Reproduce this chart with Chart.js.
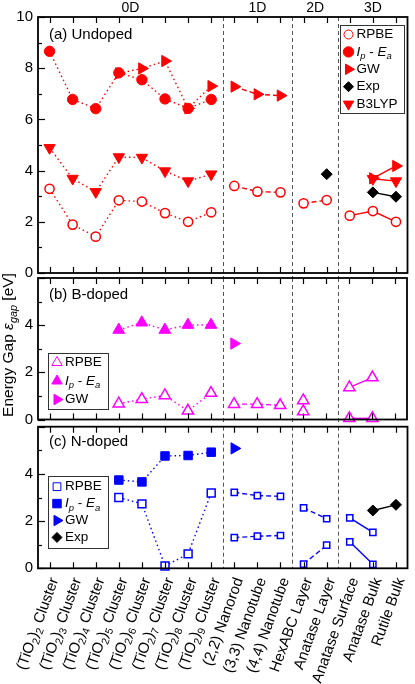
<!DOCTYPE html>
<html>
<head>
<meta charset="utf-8">
<script src="https://cdn.jsdelivr.net/npm/chart.js@4.4.0/dist/chart.umd.min.js"></script>
<style>
  html, body { margin: 0; padding: 0; background: #fff; }
  #wrap { position: relative; width: 415px; height: 684px; overflow: hidden; }
  .panel { position: absolute; left: 0; width: 415px; }
  canvas { display: block; }
</style>
</head>
<body>
<div id="wrap">
  <div class="panel" style="top:0;height:292px"><canvas id="chartA"></canvas></div>
  <div class="panel" style="top:258px;height:185px"><canvas id="chartB"></canvas></div>
  <div class="panel" style="top:408px;height:276px"><canvas id="chartC"></canvas></div>
</div>
<script>
// categories, "_" marks a one-character subscript
const categories = [
  "(TiO_2)_2 Cluster", "(TiO_2)_3 Cluster", "(TiO_2)_4 Cluster", "(TiO_2)_5 Cluster",
  "(TiO_2)_6 Cluster", "(TiO_2)_7 Cluster", "(TiO_2)_8 Cluster", "(TiO_2)_9 Cluster",
  "(2,2) Nanorod", "(3,3) Nanotube", "(4,4) Nanotube",
  "HexABC Layer", "Anatase Layer",
  "Anatase Surface", "Anatase Bulk", "Rutile Bulk"
];
const dimensions = ["0D", "1D", "2D", "3D"];
const dimensionStart = [0, 8, 11, 13];

// (a) undoped, eV
const undopedRPBE  = [3.29, 1.89, 1.42, 2.84, 2.79, 2.34, 2.00, 2.37, 3.40, 3.18, 3.15, 2.72, 2.85, 2.24, 2.42, 2.00];
const undopedIpEa  = [8.66, 6.78, 6.42, 7.82, 7.55, 6.80, 6.43, 6.78, null, null, null, null, null, null, null, null];
const undopedGW    = [null, null, null, 7.80, 7.99, 8.28, 6.43, 7.30, 7.28, 6.98, 6.93, null, null, null, 3.70, 4.18];
const undopedExp   = [null, null, null, null, null, null, null, null, null, null, null, null, 3.86, null, 3.15, 2.98];
const undopedB3LYP = [4.89, 3.69, 3.17, 4.53, 4.51, 3.98, 3.59, 3.86, null, null, null, null, null, null, 3.68, 3.59];

// (b) B-doped, two structures for some systems
const bdopedRPBE   = [null, null, null, 0.67, 0.86, 1.02, 0.37, 1.12, 0.65, 0.65, 0.60, 0.81, null, 1.36, 1.78, null];
const bdopedRPBE2  = [null, null, null, null, null, null, null, null, null, null, null, 0.34, null, 0.05, 0.05, null];
const bdopedIpEa   = [null, null, null, 3.80, 4.11, 3.80, 4.01, 4.01, null, null, null, null, null, null, null, null];
const bdopedGW     = [null, null, null, null, null, null, null, null, 3.22, null, null, null, null, null, null, null];

// (c) N-doped
const ndopedRPBE   = [null, null, null, 3.00, 2.73, 0.10, 0.61, 3.19, 3.22, 3.08, 3.05, 2.56, 2.10, 2.14, 1.52, null];
const ndopedRPBE2  = [null, null, null, null, null, null, null, null, 1.30, 1.36, 1.39, 0.18, 0.98, 1.12, 0.17, null];
const ndopedIpEa   = [null, null, null, 3.74, 3.66, 4.76, 4.78, 4.92, null, null, null, null, null, null, null, null];
const ndopedGW     = [null, null, null, null, null, null, null, null, 5.08, null, null, null, null, null, null, null];
const ndopedExp    = [null, null, null, null, null, null, null, null, null, null, null, null, null, null, 2.45, 2.69];

const FONT = "'Liberation Sans', Arial, sans-serif";
const groupDash = [[1.5, 3], [5, 3], [5, 3], []];

function parseRich(str) {
  const segs = [];
  let buf = "";
  for (let i = 0; i < str.length; i++) {
    if (str[i] === "_") {
      if (buf) segs.push({ t: buf });
      buf = "";
      segs.push({ t: str[i + 1], sub: true });
      i++;
    } else buf += str[i];
  }
  if (buf) segs.push({ t: buf });
  return segs;
}

function segFont(seg, size) {
  const s = seg.sub ? size * 0.7 : size;
  return (seg.it ? "italic " : "") + s + "px " + FONT;
}

function richWidth(ctx, segs, size) {
  let w = 0;
  segs.forEach(seg => { ctx.font = segFont(seg, size); w += ctx.measureText(seg.t).width; });
  return w;
}

function drawRich(ctx, segs, x, y, size) {
  ctx.textAlign = "left";
  ctx.textBaseline = "middle";
  segs.forEach(seg => {
    ctx.font = segFont(seg, size);
    ctx.fillText(seg.t, x, y + (seg.sub ? size * 0.32 : 0));
    x += ctx.measureText(seg.t).width;
  });
}

function marker(ctx, m, x, y) {
  ctx.save();
  ctx.setLineDash([]);
  ctx.fillStyle = m.filled ? m.color : "#fff";
  ctx.strokeStyle = m.color;
  Chart.helpers.drawPoint(ctx, {
    pointStyle: m.shape, rotation: m.rotation || 0, radius: m.legendRadius || 5,
    borderWidth: m.filled ? 1 : 1.5
  }, x, y);
  ctx.restore();
}

// split every series into one dataset per dimension group
function buildDatasets(series) {
  const out = [];
  series.forEach(s => {
    dimensionStart.forEach((start, g) => {
      const end = g + 1 < dimensionStart.length ? dimensionStart[g + 1] : categories.length;
      const pts = [];
      for (let i = start; i < end; i++) {
        if (s.values[i] != null) pts.push({ x: i, y: s.values[i] });
      }
      if (!pts.length) return;
      out.push({
        label: s.name,
        data: pts,
        showLine: true,
        borderColor: s.color,
        borderWidth: 1.4,
        borderDash: groupDash[g],
        pointStyle: s.shape,
        pointRotation: s.rotation || 0,
        pointRadius: g === 0 ? s.radius : (s.radius1 || s.radius),
        pointBorderColor: s.color,
        pointBackgroundColor: s.filled ? s.color : "#fff",
        pointBorderWidth: s.filled ? 1 : 1.5,
        clip: false,
        tension: 0,
        fill: false
      });
    });
  });
  return out;
}

const ipEaLabel = [{ t: "I", it: true }, { t: "p", sub: true, it: true }, { t: " - " }, { t: "E", it: true }, { t: "a", sub: true, it: true }];

const panelDecor = {
  id: "panelDecor",
  beforeDatasetsDraw(chart, args, o) {
    const { ctx, chartArea: a, scales: { x } } = chart;
    ctx.save();
    ctx.strokeStyle = "#555";
    ctx.lineWidth = 1;
    ctx.setLineDash([4, 3]);
    dimensionStart.slice(1).forEach(s => {
      const px = Math.round(x.getPixelForValue(s - 0.5)) + 0.5;
      ctx.beginPath();
      ctx.moveTo(px, a.top - o.sepAbove);
      ctx.lineTo(px, a.bottom + o.sepBelow);
      ctx.stroke();
    });
    ctx.restore();
  },
  afterDraw(chart, args, o) {
    const { ctx, chartArea: a, scales: { x, y } } = chart;
    ctx.save();
    ctx.strokeStyle = "#000";
    ctx.fillStyle = "#000";
    ctx.setLineDash([]);
    // inward ticks
    ctx.lineWidth = 1.2;
    categories.forEach((c, i) => {
      const px = Math.round(x.getPixelForValue(i)) + 0.5;
      ctx.beginPath();
      ctx.moveTo(px, a.bottom); ctx.lineTo(px, a.bottom - 6);
      ctx.moveTo(px, a.top); ctx.lineTo(px, a.top + 6);
      ctx.stroke();
    });
    for (let v = y.min; v <= y.max; v++) {
      const py = Math.round(y.getPixelForValue(v)) + 0.5;
      ctx.beginPath();
      ctx.moveTo(a.left, py); ctx.lineTo(a.left + (v % 2 === 0 ? 7 : 4), py);
      ctx.stroke();
    }
    // frame
    ctx.lineWidth = 1.8;
    ctx.strokeRect(a.left, a.top, a.right - a.left, a.bottom - a.top);
    // panel title
    ctx.font = "15px " + FONT;
    ctx.textAlign = "left";
    ctx.textBaseline = "middle";
    ctx.fillText(o.title, a.left + 11, a.top + o.titleDy);
    // legend box
    const L = o.legend;
    const bx = L.left != null ? a.left + L.left : a.right - L.right - L.w;
    const by = L.top != null ? a.top + L.top : a.bottom - L.bottom - L.h;
    ctx.fillStyle = "#fff";
    ctx.fillRect(bx, by, L.w, L.h);
    ctx.lineWidth = 1;
    ctx.strokeStyle = "#333";
    ctx.strokeRect(Math.round(bx) + 0.5, Math.round(by) + 0.5, L.w, L.h);
    L.entries.forEach((e, k) => {
      const ey = by + L.first + k * L.step;
      marker(ctx, e.m, bx + 9, ey);
      ctx.fillStyle = "#000";
      drawRich(ctx, e.label, bx + 17, ey, 13.5);
    });
    // dimension labels above the top panel
    if (o.dimLabels) {
      ctx.fillStyle = "#000";
      ctx.font = "14px " + FONT;
      ctx.textAlign = "center";
      ctx.textBaseline = "middle";
      dimensions.forEach((d, g) => {
        const end = g + 1 < dimensionStart.length ? dimensionStart[g + 1] : categories.length;
        ctx.fillText(d, x.getPixelForValue((dimensionStart[g] + end - 1) / 2), a.top - 9);
      });
    }
    // y-axis title
    if (o.yTitle) {
      const segs = [{ t: "Energy Gap " }, { t: "\u03b5", it: true }, { t: "gap", sub: true, it: true }, { t: " [eV]" }];
      const w = richWidth(ctx, segs, 15.5);
      ctx.save();
      ctx.translate(9, o.yTitle);
      ctx.rotate(-Math.PI / 2);
      ctx.fillStyle = "#000";
      drawRich(ctx, segs, -w / 2, 0, 15.5);
      ctx.restore();
    }
    // rotated category labels under the bottom panel
    if (o.catLabels) {
      ctx.fillStyle = "#000";
      categories.forEach((c, i) => {
        const segs = parseRich(c);
        const w = richWidth(ctx, segs, 15);
        ctx.save();
        ctx.translate(x.getPixelForValue(i) + 5, a.bottom + 10);
        ctx.rotate(-70 * Math.PI / 180);
        drawRich(ctx, segs, -w, 0, 15);
        ctx.restore();
      });
    }
    ctx.restore();
  }
};

function makeChart(id, datasets, yMax, padding, decor) {
  return new Chart(document.getElementById(id), {
    type: "line",
    data: { datasets },
    plugins: [panelDecor],
    options: {
      responsive: true,
      maintainAspectRatio: false,
      animation: false,
      events: [],
      layout: { padding },
      plugins: { legend: { display: false }, tooltip: { enabled: false }, panelDecor: decor },
      scales: {
        x: { type: "linear", min: -0.5, max: 15.5, display: false },
        y: {
          min: 0, max: yMax,
          grid: { display: false, drawTicks: false },
          border: { display: false },
          afterFit: s => { s.width = 38; },
          ticks: {
            stepSize: 2, padding: 5, color: "#000",
            font: { family: FONT, size: 15 },
            callback: v => (yMax === 6 && v === 6 ? "" : v)
          }
        }
      }
    }
  });
}

const red = "#ff0000", magenta = "#ff00ff", blue = "#0000ff", black = "#000000";

const mA = {
  rpbe:  { color: red, shape: "circle", filled: false, radius: 4.6, legendRadius: 4.5 },
  ipea:  { color: red, shape: "circle", filled: true, radius: 5.2, legendRadius: 5.2 },
  gw:    { color: red, shape: "triangle", rotation: 90, filled: true, radius: 6.5, legendRadius: 6 },
  exp:   { color: black, shape: "rectRot", filled: true, radius: 5.5, legendRadius: 5 },
  b3lyp: { color: red, shape: "triangle", rotation: 180, filled: true, radius: 6.5, legendRadius: 6 }
};
const mB = {
  rpbe: { color: magenta, shape: "triangle", filled: false, radius: 6.5, legendRadius: 6 },
  ipea: { color: magenta, shape: "triangle", filled: true, radius: 6.8, legendRadius: 6 },
  gw:   { color: magenta, shape: "triangle", rotation: 90, filled: true, radius: 6.5, legendRadius: 6 }
};
const mC = {
  rpbe: { color: blue, shape: "rect", filled: false, radius: 5.6, radius1: 4.4, legendRadius: 5.5 },
  ipea: { color: blue, shape: "rect", filled: true, radius: 6, legendRadius: 6 },
  gw:   { color: blue, shape: "triangle", rotation: 90, filled: true, radius: 6.5, legendRadius: 6 },
  exp:  { color: black, shape: "rectRot", filled: true, radius: 5.5, legendRadius: 5 }
};

makeChart("chartA", buildDatasets([
  { name: "RPBE", values: undopedRPBE, ...mA.rpbe },
  { name: "Ip - Ea", values: undopedIpEa, ...mA.ipea },
  { name: "GW", values: undopedGW, ...mA.gw },
  { name: "Exp", values: undopedExp, ...mA.exp },
  { name: "B3LYP", values: undopedB3LYP, ...mA.b3lyp }
]), 10, { top: 17, bottom: 19, left: 0, right: 2 }, {
  title: "(a) Undoped", titleDy: 18, sepAbove: 0, sepBelow: 5, dimLabels: true,
  legend: {
    right: 4, top: 8, w: 64, h: 88, first: 9.5, step: 17.4,
    entries: [
      { m: mA.rpbe, label: [{ t: "RPBE" }] },
      { m: mA.ipea, label: ipEaLabel },
      { m: mA.gw, label: [{ t: "GW" }] },
      { m: mA.exp, label: [{ t: "Exp" }] },
      { m: mA.b3lyp, label: [{ t: "B3LYP" }] }
    ]
  }
});

makeChart("chartB", buildDatasets([
  { name: "RPBE", values: bdopedRPBE, ...mB.rpbe },
  { name: "RPBE site 2", values: bdopedRPBE2, ...mB.rpbe },
  { name: "Ip - Ea", values: bdopedIpEa, ...mB.ipea },
  { name: "GW", values: bdopedGW, ...mB.gw }
]), 6, { top: 20, bottom: 23.5, left: 0, right: 2 }, {
  title: "(b) B-doped", titleDy: 16.5, sepAbove: 0, sepBelow: 5, yTitle: 87,
  legend: {
    left: 10, bottom: 11, w: 60, h: 56, first: 10, step: 18.5,
    entries: [
      { m: mB.rpbe, label: [{ t: "RPBE" }] },
      { m: mB.ipea, label: ipEaLabel },
      { m: mB.gw, label: [{ t: "GW" }] }
    ]
  }
});

makeChart("chartC", buildDatasets([
  { name: "RPBE", values: ndopedRPBE, ...mC.rpbe },
  { name: "RPBE site 2", values: ndopedRPBE2, ...mC.rpbe },
  { name: "Ip - Ea", values: ndopedIpEa, ...mC.ipea },
  { name: "GW", values: ndopedGW, ...mC.gw },
  { name: "Exp", values: ndopedExp, ...mC.exp }
]), 6, { top: 18.7, bottom: 115.7, left: 0, right: 2 }, {
  title: "(c) N-doped", titleDy: 15, sepAbove: 0, sepBelow: 0, catLabels: true,
  legend: {
    left: 10, top: 49.3, w: 60, h: 72, first: 10.7, step: 16.9,
    entries: [
      { m: mC.rpbe, label: [{ t: "RPBE" }] },
      { m: mC.ipea, label: ipEaLabel },
      { m: mC.gw, label: [{ t: "GW" }] },
      { m: mC.exp, label: [{ t: "Exp" }] }
    ]
  }
});
</script>
</body>
</html>
